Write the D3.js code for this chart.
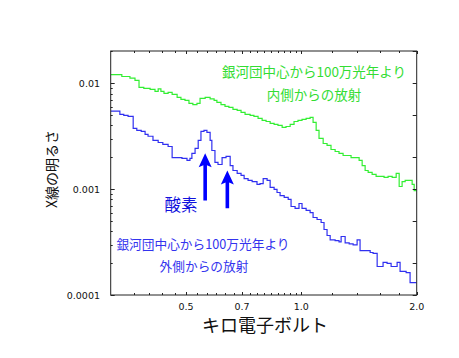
<!DOCTYPE html>
<html>
<head>
<meta charset="utf-8">
<script src="https://cdn.jsdelivr.net/npm/d3@7"></script>
<style>
  html, body { margin: 0; padding: 0; background: #fff; }
  svg { display: block; }
</style>
</head>
<body>
<script>
// ---- data (bin left edges in keV, brightness) ----
const innerEnergy = [0.318,0.340,0.357,0.368,0.377,0.388,0.403,0.415,0.423,0.430,0.438,0.449,0.460,0.474,0.485,0.497,0.509,0.521,0.534,0.544,0.561,0.578,0.592,0.602,0.617,0.632,0.647,0.663,0.680,0.696,0.713,0.735,0.752,0.771,0.790,0.809,0.829,0.849,0.869,0.891,0.912,0.935,0.957,0.980,1.004,1.029,1.054,1.073,1.093,1.112,1.140,1.167,1.195,1.225,1.254,1.285,1.316,1.348,1.381,1.415,1.441,1.467,1.494,1.530,1.567,1.605,1.644,1.684,1.726,1.768,1.800,1.832,1.866,1.911,1.946,1.970];
const innerValue  = [0.01206,0.0116,0.0112,0.01065,0.00915,0.00895,0.00876,0.00838,0.00885,0.00838,0.00803,0.0082,0.00785,0.00736,0.00704,0.00689,0.00646,0.0063,0.00646,0.0072,0.00736,0.00712,0.00689,0.0066,0.0063,0.00605,0.00592,0.00567,0.00554,0.00531,0.00508,0.00497,0.00487,0.00466,0.00446,0.00436,0.00418,0.00409,0.0040,0.00383,0.00391,0.00409,0.00436,0.00446,0.00456,0.00466,0.00476,0.00427,0.00359,0.00302,0.0027,0.00259,0.00237,0.00227,0.00218,0.00208,0.00208,0.00199,0.00199,0.00187,0.00167,0.0015,0.00144,0.00138,0.00132,0.00132,0.00129,0.00132,0.00129,0.00141,0.00106,0.00118,0.00121,0.00121,0.00111,0.00097];

const outerEnergy = [0.318,0.336,0.344,0.353,0.364,0.372,0.382,0.391,0.398,0.410,0.423,0.435,0.449,0.460,0.474,0.488,0.503,0.512,0.518,0.528,0.538,0.547,0.557,0.567,0.578,0.584,0.595,0.606,0.621,0.636,0.652,0.663,0.680,0.696,0.709,0.726,0.744,0.766,0.780,0.795,0.814,0.829,0.849,0.864,0.880,0.902,0.924,0.940,0.963,0.986,1.004,1.029,1.054,1.073,1.099,1.126,1.146,1.167,1.189,1.225,1.254,1.270,1.301,1.333,1.365,1.398,1.423,1.458,1.512,1.539,1.577,1.634,1.674,1.715,1.778,1.810,1.877,1.922];
const outerValue  = [0.00546,0.00508,0.00497,0.00487,0.00375,0.00359,0.00351,0.00329,0.00316,0.00289,0.00276,0.00265,0.00253,0.00199,0.00199,0.00195,0.00187,0.00195,0.00218,0.00243,0.00289,0.00351,0.00359,0.00344,0.00289,0.00232,0.00179,0.00171,0.00199,0.00204,0.00167,0.0015,0.00141,0.00135,0.00126,0.00121,0.00118,0.00111,0.00113,0.00126,0.00121,0.00104,0.000994,0.00093,0.00087,0.000835,0.0008,0.000686,0.000657,0.000732,0.000657,0.00063,0.0006,0.00054,0.000517,0.000484,0.000416,0.000365,0.000332,0.000327,0.000318,0.000357,0.000311,0.000304,0.000297,0.000332,0.000263,0.000263,0.000252,0.000247,0.000186,0.000203,0.000199,0.000186,0.000203,0.000167,0.000163,0.000131];

const xTickValues = [0.5, 0.7, 1.0, 2.0];
const xTickLabels = ["0.5", "0.7", "1.0", "2.0"];
const yTickValues = [0.0001, 0.001, 0.01];
const yTickLabels = ["0.0001", "0.001", "0.01"];

// oxygen arrows: energy, tip value, tail value
const arrowEnergy = [0.561, 0.641];
const arrowTip    = [0.00218, 0.0015];
const arrowTail   = [0.00078, 0.00066];

const W = 459, H = 358;
const M = { left: 110.7, right: 416.7, top: 51, bottom: 295 };

const svg = d3.select("body").append("svg").attr("width", W).attr("height", H);

const x = d3.scaleLog().domain([0.318, 2.0]).range([M.left, M.right]);
const y = d3.scaleLog().domain([0.0001, 0.0202]).range([M.bottom, M.top]);

const defs = svg.append("defs");
defs.append("clipPath").attr("id", "clip")
  .append("rect").attr("x", M.left).attr("y", M.top)
  .attr("width", M.right - M.left).attr("height", M.bottom - M.top);

// step series
function stepPts(en, val) {
  const pts = en.map((e, i) => [e, val[i]]);
  pts.push([2.0, val[val.length - 1]]);
  return pts;
}
const line = d3.line().x(d => x(d[0])).y(d => y(d[1])).curve(d3.curveStepAfter);

const g = svg.append("g").attr("clip-path", "url(#clip)");
g.append("path").attr("d", line(stepPts(innerEnergy, innerValue)))
  .attr("fill", "none").attr("stroke", "#33ee33").attr("stroke-width", 1.2);
g.append("path").attr("d", line(stepPts(outerEnergy, outerValue)))
  .attr("fill", "none").attr("stroke", "#3030f0").attr("stroke-width", 1.2);

// frame
svg.append("rect").attr("x", M.left).attr("y", M.top)
  .attr("width", M.right - M.left).attr("height", M.bottom - M.top)
  .attr("fill", "none").attr("stroke", "#222").attr("stroke-width", 1);

// ticks
const xMinor = d3.range(11, 30).map(k => k / 30).concat([1.2, 1.4, 1.6, 1.8]);
const yMinorAll = [];
[0.0001, 0.001, 0.01].forEach(d => { for (let k = 2; k <= 9; k++) if (d * k <= 0.0202) yMinorAll.push(d * k); });
const yMinorRight = [0.0002, 0.0005, 0.002, 0.005, 0.02].filter(v => v <= 0.0202);

const tk = svg.append("g").attr("stroke", "#222").attr("stroke-width", 1);
xMinor.concat(xTickValues).forEach(v => {
  const px = Math.round(x(v)) + 0.5;
  const len = xTickValues.includes(v) ? 3 : 2;
  tk.append("line").attr("x1", px).attr("x2", px).attr("y1", M.bottom).attr("y2", M.bottom - len);
  tk.append("line").attr("x1", px).attr("x2", px).attr("y1", M.top).attr("y2", M.top + len);
});
yMinorAll.concat(yTickValues).forEach(v => {
  const py = Math.round(y(v)) + 0.5;
  const len = yTickValues.includes(v) ? 4 : 2;
  tk.append("line").attr("x1", M.left).attr("x2", M.left + len).attr("y1", py).attr("y2", py);
});
yMinorRight.concat(yTickValues).forEach(v => {
  const py = Math.round(y(v)) + 0.5;
  tk.append("line").attr("x1", M.right).attr("x2", M.right - 4).attr("y1", py).attr("y2", py);
});

// tick labels
const numFont = "'DejaVu Sans', sans-serif";
svg.append("g").selectAll("text").data(xTickValues).join("text")
  .attr("x", d => x(d)).attr("y", 310)
  .attr("text-anchor", "middle").attr("font-family", numFont).attr("font-size", 9.5)
  .attr("fill", "#111").text((d, i) => xTickLabels[i]);
svg.append("g").selectAll("text").data(yTickValues).join("text")
  .attr("x", 100).attr("y", d => y(d) + 3.5)
  .attr("text-anchor", "end").attr("font-family", numFont).attr("font-size", 9.5)
  .attr("fill", "#111").text((d, i) => yTickLabels[i]);

// axis titles
const jp = "'Noto Sans CJK JP', sans-serif";
svg.append("text").attr("x", 265).attr("y", 332).attr("text-anchor", "middle")
  .attr("font-family", jp).attr("font-size", 18).attr("fill", "#111").text("キロ電子ボルト");
svg.append("text").attr("transform", "translate(57,169) rotate(-90)").attr("text-anchor", "middle")
  .attr("font-family", jp).attr("font-size", 14).attr("fill", "#111").text("X線の明るさ");

// annotations
svg.append("text").attr("x", 314).attr("y", 77).attr("text-anchor", "middle")
  .attr("font-family", jp).attr("font-size", 13.5).attr("fill", "#33dd33").text("銀河団中心から100万光年より");
svg.append("text").attr("x", 314).attr("y", 100).attr("text-anchor", "middle")
  .attr("font-family", jp).attr("font-size", 13.5).attr("fill", "#33dd33").text("内側からの放射");
svg.append("text").attr("x", 203).attr("y", 249).attr("text-anchor", "middle")
  .attr("font-family", jp).attr("font-size", 12.7).attr("fill", "#3333ee").text("銀河団中心から100万光年より");
svg.append("text").attr("x", 204).attr("y", 271).attr("text-anchor", "middle")
  .attr("font-family", jp).attr("font-size", 12.7).attr("fill", "#3333ee").text("外側からの放射");
svg.append("text").attr("x", 181).attr("y", 211).attr("text-anchor", "middle")
  .attr("font-family", jp).attr("font-size", 16.5).attr("fill", "#1111dd").text("酸素");

// arrows
arrowEnergy.forEach((e, i) => {
  const cx = x(e), ty = y(arrowTip[i]), by = y(arrowTail[i]);
  const hw = 6.5, hl = 14, sw = 1.8;
  const p = d3.path();
  p.moveTo(cx, ty);
  p.lineTo(cx + hw, ty + hl);
  p.lineTo(cx + sw, ty + hl - 2);
  p.lineTo(cx + sw, by);
  p.lineTo(cx - sw, by);
  p.lineTo(cx - sw, ty + hl - 2);
  p.lineTo(cx - hw, ty + hl);
  p.closePath();
  svg.append("path").attr("d", p.toString()).attr("fill", "#0000ff");
});
</script>
</body>
</html>
